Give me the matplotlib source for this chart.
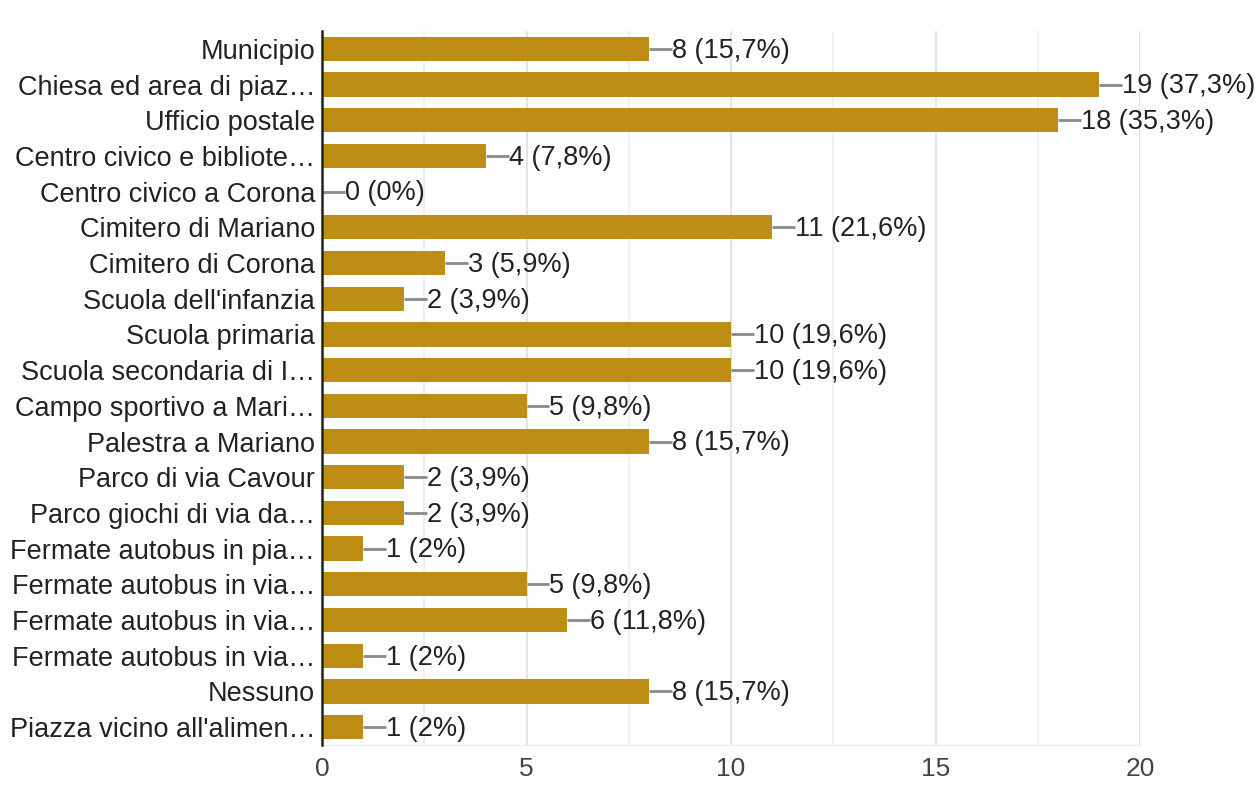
import matplotlib

matplotlib.use("Agg")
import matplotlib.pyplot as plt

CATEGORIES = [
    "Municipio",
    "Chiesa ed area di piaz…",
    "Ufficio postale",
    "Centro civico e bibliote…",
    "Centro civico a Corona",
    "Cimitero di Mariano",
    "Cimitero di Corona",
    "Scuola dell'infanzia",
    "Scuola primaria",
    "Scuola secondaria di I…",
    "Campo sportivo a Mari…",
    "Palestra a Mariano",
    "Parco di via Cavour",
    "Parco giochi di via da…",
    "Fermate autobus in pia…",
    "Fermate autobus in via…",
    "Fermate autobus in via…",
    "Fermate autobus in via…",
    "Nessuno",
    "Piazza vicino all'alimen…",
]
COUNTS = [8, 19, 18, 4, 0, 11, 3, 2, 10, 10, 5, 8, 2, 2, 1, 5, 6, 1, 8, 1]
PERCENTS = ["15,7%", "37,3%", "35,3%", "7,8%", "0%", "21,6%", "5,9%", "3,9%",
            "19,6%", "19,6%", "9,8%", "15,7%", "3,9%", "3,9%", "2%", "9,8%",
            "11,8%", "2%", "15,7%", "2%"]
XTICKS = [0, 5, 10, 15, 20]

BAR = "#BE8D14"
TEXT = "#222222"
LEADER = "#8A8A8A"
GRID = "#E4E4E4"

plt.rcParams["font.family"] = ["Liberation Sans", "DejaVu Sans"]

fig = plt.figure(figsize=(12.6, 7.87), dpi=100)
ax = fig.add_axes([0.2556, 0.0534, 0.6492, 0.9072])

y = list(range(len(CATEGORIES)))
ax.barh(y, COUNTS, height=0.68, color=BAR, zorder=3)

lead = 0.56
for yi, n, pct in zip(y, COUNTS, PERCENTS):
    ax.plot([n, n + lead], [yi, yi], color=LEADER, linewidth=2.0, zorder=3,
            solid_capstyle="butt")
    ax.text(n + lead, yi + 0.05, f"{n} ({pct})", va="center", ha="left",
            fontsize=19.5, color=TEXT, zorder=4)

ax.set_xlim(0, 20)
ax.set_ylim(len(CATEGORIES) - 0.5, -0.5)
ax.set_yticks(y)
ax.set_yticklabels(CATEGORIES, fontsize=19.5, color=TEXT)
ax.set_xticks(XTICKS)
ax.set_xticklabels([str(t) for t in XTICKS], fontsize=19, color="#444444")
ax.tick_params(axis="y", length=0, pad=5)
ax.tick_params(axis="x", length=0, pad=9)

for gx in [2.5, 5, 7.5, 10, 12.5, 15, 17.5, 20]:
    ax.axvline(gx, color=GRID if gx % 5 == 0 else "#F0F0F0", linewidth=1.5, zorder=1)

for side in ("top", "right"):
    ax.spines[side].set_visible(False)
ax.spines["bottom"].set_color("#EEEEEE")
ax.spines["left"].set_color("#222222")
ax.spines["left"].set_linewidth(1.8)
ax.spines["left"].set_zorder(5)

fig.savefig("out.png", dpi=100)
